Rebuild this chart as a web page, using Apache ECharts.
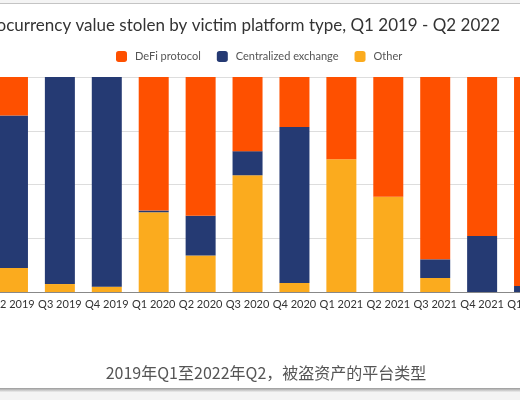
<!DOCTYPE html>
<html>
<head>
<meta charset="utf-8">
<script src="https://cdn.jsdelivr.net/npm/echarts@6/dist/echarts.min.js"></script>
<style>
html,body{margin:0;padding:0;background:#f4f4f4;overflow:hidden;width:520px;height:400px;position:relative;}
#c{position:absolute;left:-60px;top:0;width:640px;height:400px;}
</style>
</head>
<body>
<div id="c"></div>
<script>
const categories = ['Q2 2019','Q3 2019','Q4 2019','Q1 2020','Q2 2020','Q3 2020','Q4 2020','Q1 2021','Q2 2021','Q3 2021','Q4 2021','Q1 2022'];
const defi        = [17.9, 0,    0,    62.1, 64.5, 34.5, 23.3, 38.3, 55.7, 84.8, 73.9, 97.2];
const centralized = [70.9, 96.3, 97.5, 0.8,  18.5, 11.2, 72.5, 0,    0,    8.7,  26.1, 2.8];
const other       = [11.2, 3.7,  2.5,  37.1, 17.0, 54.3, 4.2,  61.7, 44.3, 6.5,  0,    0];
const seriesNames = ['DeFi protocol','Centralized exchange','Other'];
const yTicks = [0, 25, 50, 75, 100];
const titleText = 'Cryptocurrency value stolen by victim platform type, Q1 2019 - Q2 2022';
const captionText = '2019年Q1至2022年Q2，被盗资产的平台类型';

const colors = {defi:'#fe5000', cex:'#253a73', other:'#fbab1e'};
const font = 'Lato, "Open Sans", sans-serif';
const OFF = 60; // container offset (container starts 60px left of page)

const chart = echarts.init(document.getElementById('c'), null, {renderer:'canvas'});
chart.setOption({
  backgroundColor: '#ffffff',
  animation: false,
  title: {
    text: titleText,
    right: 640 - (505 + OFF), top: 12,
    textStyle: {fontFamily: font, fontSize: 17, fontWeight: 'normal', color: '#333'}
  },
  legend: {
    data: seriesNames,
    left: 111 + OFF, top: 46,
    itemWidth: 11, itemHeight: 11, itemGap: 16,
    icon: 'roundRect',
    textStyle: {fontFamily: font, fontSize: 11, color: '#555', padding: [0,0,0,3]}
  },
  grid: {left: -10.5 + OFF, top: 77, width: 563, height: 215, containLabel: false},
  xAxis: {
    type: 'category',
    data: categories,
    axisTick: {show: false},
    axisLine: {lineStyle: {color: '#888', width: 1}},
    axisLabel: {fontFamily: font, fontSize: 11, color: '#333', margin: 7, interval: 0}
  },
  yAxis: {
    type: 'value',
    min: yTicks[0], max: yTicks[yTicks.length-1], interval: yTicks[1]-yTicks[0],
    axisLabel: {show: false},
    axisLine: {show: false},
    axisTick: {show: false},
    splitLine: {lineStyle: {color: '#dddddd'}}
  },
  series: [
    {name: seriesNames[2], type: 'bar', stack: 's', data: other, barWidth: 30, itemStyle: {color: colors.other}},
    {name: seriesNames[1], type: 'bar', stack: 's', data: centralized, barWidth: 30, itemStyle: {color: colors.cex}},
    {name: seriesNames[0], type: 'bar', stack: 's', data: defi, barWidth: 30, itemStyle: {color: colors.defi}}
  ],
  graphic: [
    {type: 'rect', shape: {x: 0, y: 0, width: 640, height: 3}, style: {fill: '#f4f4f4'}, silent: true},
    {type: 'line', shape: {x1: 0, y1: 3.5, x2: 640, y2: 3.5}, style: {stroke: '#c4c4c4', lineWidth: 1}, silent: true},
    {type: 'rect', shape: {x: 0, y: 388, width: 640, height: 12}, style: {fill: '#f4f4f4'}, silent: true, z: 10},
    {type: 'rect', shape: {x: 0, y: 388, width: 640, height: 4}, style: {
      fill: new echarts.graphic.LinearGradient(0,0,0,1,[{offset:0,color:'#9a9a9a'},{offset:1,color:'#eeeeee'}])
    }, silent: true, z: 11},
    {type: 'text', x: 266 + OFF, y: 373, style: {
      text: captionText, fill: '#555', fontSize: 16,
      fontFamily: '"Noto Sans CJK SC", "Noto Sans", sans-serif',
      textAlign: 'center', textVerticalAlign: 'middle'
    }, silent: true}
  ]
});
</script>
</body>
</html>
